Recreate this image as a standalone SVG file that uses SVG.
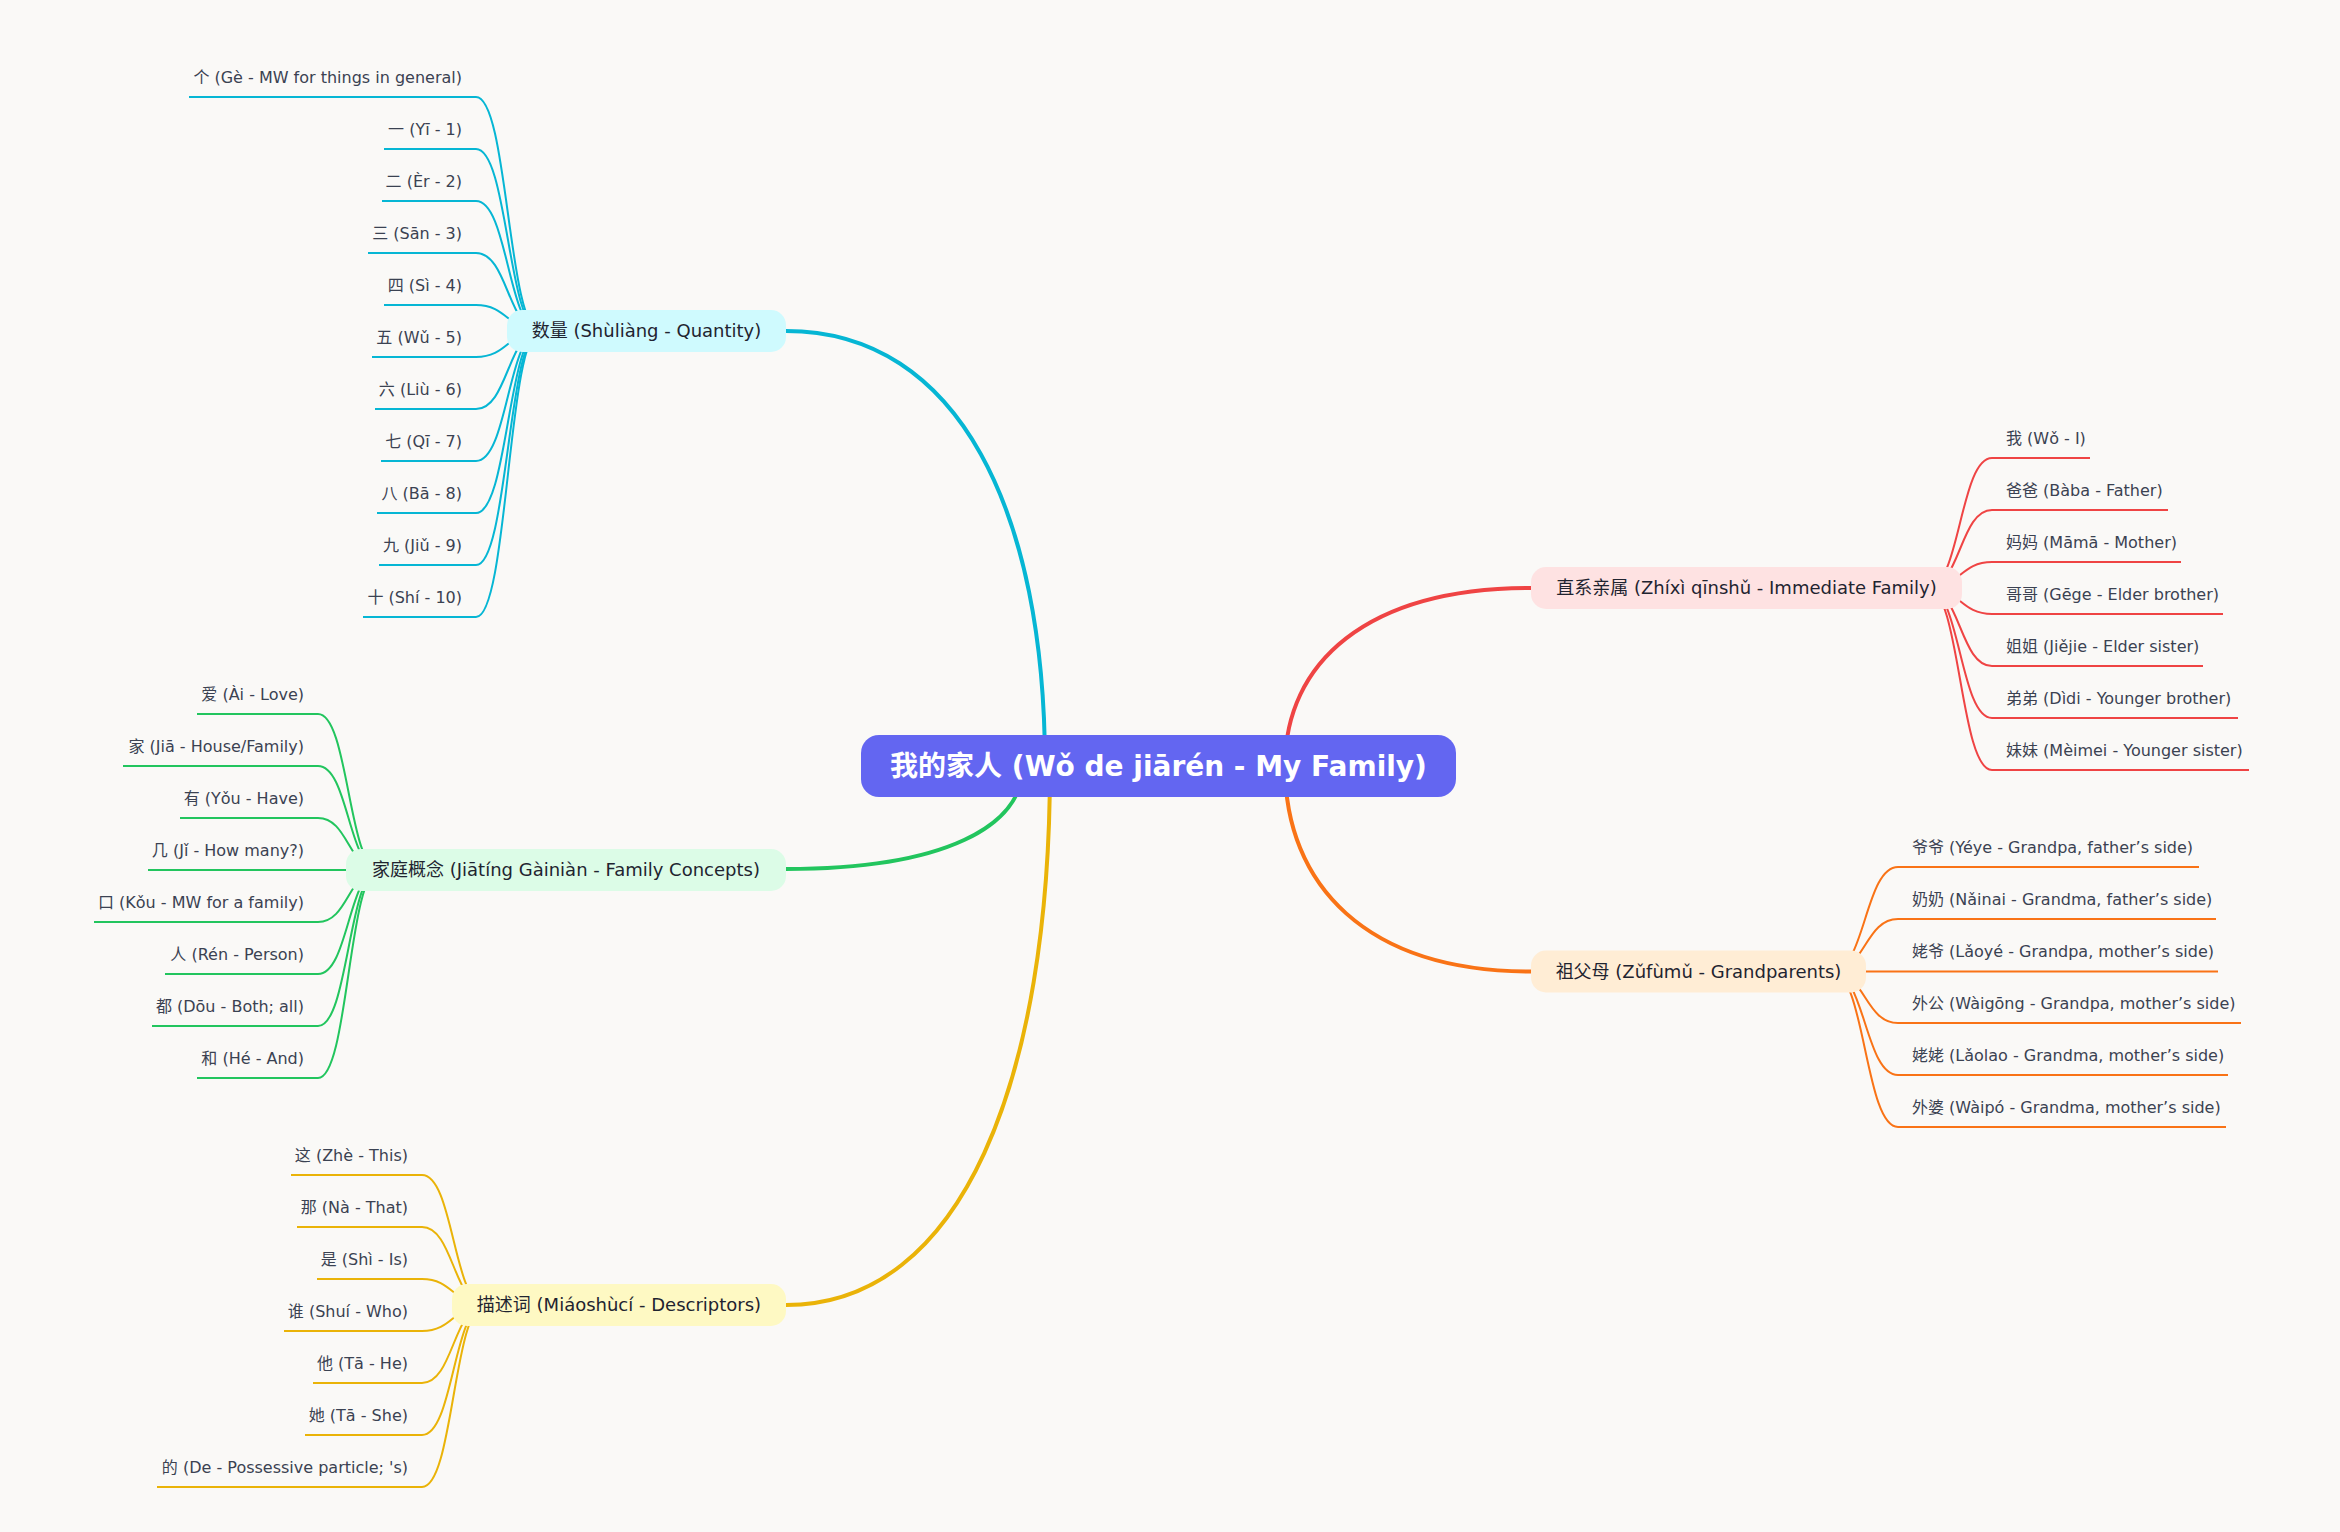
<svg xmlns="http://www.w3.org/2000/svg" width="2340" height="1532" viewBox="0 0 2340 1532">
<style>
text{font-family:"DejaVu Sans","Noto Sans CJK SC",sans-serif}
.leaf{font-size:16px;fill:#3b4252}
.l1{font-size:18px;fill:#1f2430;text-anchor:middle}
.root{font-size:28px;font-weight:bold;fill:#ffffff;text-anchor:middle}
.end{text-anchor:end}
.main{fill:none;stroke-width:4;stroke-linecap:round}
.sub{fill:none;stroke-width:2}
.c{stroke:#06b6d4}.g{stroke:#22c55e}.y{stroke:#eab308}.r{stroke:#ef4444}.o{stroke:#f97316}
</style>
<rect width="2340" height="1532" fill="#faf9f7"/>
<g id="connectors">
<path class="main c" d="M1045 766 C1045 514 960 331 786 331"/>
<path class="main g" d="M1023 766 C1023 826 945 869 786 869"/>
<path class="main y" d="M1050 766 C1050 1079 963 1305 786 1305"/>
<path class="main r" d="M1285 766 C1285 663 1366 588 1531 588"/>
<path class="main o" d="M1285 766 C1285 885 1366 971.5 1531 971.5"/>
<g class="sub c">
<path d="M189 97 H476 C508 97 508 331 540 331"/>
<path d="M384 149 H476 C508 149 508 331 540 331"/>
<path d="M382 201 H476 C508 201 508 331 540 331"/>
<path d="M368 253 H476 C508 253 508 331 540 331"/>
<path d="M384 305 H476 C508 305 508 331 540 331"/>
<path d="M372 357 H476 C508 357 508 331 540 331"/>
<path d="M375 409 H476 C508 409 508 331 540 331"/>
<path d="M381 461 H476 C508 461 508 331 540 331"/>
<path d="M377 513 H476 C508 513 508 331 540 331"/>
<path d="M379 565 H476 C508 565 508 331 540 331"/>
<path d="M363 617 H476 C508 617 508 331 540 331"/>
</g>
<g class="sub g">
<path d="M197 714 H318 C348.5 714 348.5 870 379 870"/>
<path d="M123 766 H318 C348.5 766 348.5 870 379 870"/>
<path d="M180 818 H318 C348.5 818 348.5 870 379 870"/>
<path d="M148 870 H379"/>
<path d="M94 922 H318 C348.5 922 348.5 870 379 870"/>
<path d="M165 974 H318 C348.5 974 348.5 870 379 870"/>
<path d="M152 1026 H318 C348.5 1026 348.5 870 379 870"/>
<path d="M197 1078 H318 C348.5 1078 348.5 870 379 870"/>
</g>
<g class="sub y">
<path d="M291 1175 H422 C453.5 1175 453.5 1305 485 1305"/>
<path d="M297 1227 H422 C453.5 1227 453.5 1305 485 1305"/>
<path d="M317 1279 H422 C453.5 1279 453.5 1305 485 1305"/>
<path d="M284 1331 H422 C453.5 1331 453.5 1305 485 1305"/>
<path d="M313 1383 H422 C453.5 1383 453.5 1305 485 1305"/>
<path d="M305 1435 H422 C453.5 1435 453.5 1305 485 1305"/>
<path d="M157 1487 H422 C453.5 1487 453.5 1305 485 1305"/>
</g>
<g class="sub r">
<path d="M1928 588 C1960 588 1960 458 1992 458 H2090"/>
<path d="M1928 588 C1960 588 1960 510 1992 510 H2168"/>
<path d="M1928 588 C1960 588 1960 562 1992 562 H2181"/>
<path d="M1928 588 C1960 588 1960 614 1992 614 H2223"/>
<path d="M1928 588 C1960 588 1960 666 1992 666 H2203"/>
<path d="M1928 588 C1960 588 1960 718 1992 718 H2238"/>
<path d="M1928 588 C1960 588 1960 770 1992 770 H2249"/>
</g>
<g class="sub o">
<path d="M1832 971.5 C1865 971.5 1865 867 1898 867 H2199"/>
<path d="M1832 971.5 C1865 971.5 1865 919 1898 919 H2216"/>
<path d="M1832 971.5 H2218"/>
<path d="M1832 971.5 C1865 971.5 1865 1023 1898 1023 H2241"/>
<path d="M1832 971.5 C1865 971.5 1865 1075 1898 1075 H2228"/>
<path d="M1832 971.5 C1865 971.5 1865 1127 1898 1127 H2226"/>
</g>
</g>
<g id="root">
<rect x="861" y="735" width="595" height="62" rx="18" fill="#6366f1"/>
<text class="root" x="1158.5" y="776">我的家人 (Wǒ de jiārén - My Family)</text>
</g>
<g id="quantity">
<rect x="507" y="310" width="279" height="42" rx="15" fill="#cffafe"/>
<text class="l1" x="646.5" y="337">数量 (Shùliàng - Quantity)</text>
</g>
<g id="quantity-leaves">
<text class="leaf end" x="462" y="83">个 (Gè - MW for things in general)</text>
<text class="leaf end" x="462" y="135">一 (Yī - 1)</text>
<text class="leaf end" x="462" y="187">二 (Èr - 2)</text>
<text class="leaf end" x="462" y="239">三 (Sān - 3)</text>
<text class="leaf end" x="462" y="291">四 (Sì - 4)</text>
<text class="leaf end" x="462" y="343">五 (Wǔ - 5)</text>
<text class="leaf end" x="462" y="395">六 (Liù - 6)</text>
<text class="leaf end" x="462" y="447">七 (Qī - 7)</text>
<text class="leaf end" x="462" y="499">八 (Bā - 8)</text>
<text class="leaf end" x="462" y="551">九 (Jiǔ - 9)</text>
<text class="leaf end" x="462" y="603">十 (Shí - 10)</text>
</g>
<g id="family-concepts">
<rect x="346" y="849" width="440" height="42" rx="15" fill="#dcfce7"/>
<text class="l1" x="566" y="876">家庭概念 (Jiātíng Gàiniàn - Family Concepts)</text>
</g>
<g id="family-concepts-leaves">
<text class="leaf end" x="304" y="700">爱 (Ài - Love)</text>
<text class="leaf end" x="304" y="752">家 (Jiā - House/Family)</text>
<text class="leaf end" x="304" y="804">有 (Yǒu - Have)</text>
<text class="leaf end" x="304" y="856">几 (Jǐ - How many?)</text>
<text class="leaf end" x="304" y="908">口 (Kǒu - MW for a family)</text>
<text class="leaf end" x="304" y="960">人 (Rén - Person)</text>
<text class="leaf end" x="304" y="1012">都 (Dōu - Both; all)</text>
<text class="leaf end" x="304" y="1064">和 (Hé - And)</text>
</g>
<g id="descriptors">
<rect x="452" y="1284" width="334" height="42" rx="15" fill="#fef9c3"/>
<text class="l1" x="619" y="1311">描述词 (Miáoshùcí - Descriptors)</text>
</g>
<g id="descriptors-leaves">
<text class="leaf end" x="408" y="1161">这 (Zhè - This)</text>
<text class="leaf end" x="408" y="1213">那 (Nà - That)</text>
<text class="leaf end" x="408" y="1265">是 (Shì - Is)</text>
<text class="leaf end" x="408" y="1317">谁 (Shuí - Who)</text>
<text class="leaf end" x="408" y="1369">他 (Tā - He)</text>
<text class="leaf end" x="408" y="1421">她 (Tā - She)</text>
<text class="leaf end" x="408" y="1473">的 (De - Possessive particle; 's)</text>
</g>
<g id="immediate-family">
<rect x="1531" y="567" width="431" height="42" rx="15" fill="#fee2e2"/>
<text class="l1" x="1746.5" y="594">直系亲属 (Zhíxì qīnshǔ - Immediate Family)</text>
</g>
<g id="immediate-family-leaves">
<text class="leaf" x="2006" y="444">我 (Wǒ - I)</text>
<text class="leaf" x="2006" y="496">爸爸 (Bàba - Father)</text>
<text class="leaf" x="2006" y="548">妈妈 (Māmā - Mother)</text>
<text class="leaf" x="2006" y="600">哥哥 (Gēge - Elder brother)</text>
<text class="leaf" x="2006" y="652">姐姐 (Jiějie - Elder sister)</text>
<text class="leaf" x="2006" y="704">弟弟 (Dìdi - Younger brother)</text>
<text class="leaf" x="2006" y="756">妹妹 (Mèimei - Younger sister)</text>
</g>
<g id="grandparents">
<rect x="1531" y="950.5" width="335" height="42" rx="15" fill="#ffedd5"/>
<text class="l1" x="1698.5" y="977.5">祖父母 (Zǔfùmǔ - Grandparents)</text>
</g>
<g id="grandparents-leaves">
<text class="leaf" x="1912" y="853">爷爷 (Yéye - Grandpa, father’s side)</text>
<text class="leaf" x="1912" y="905">奶奶 (Nǎinai - Grandma, father’s side)</text>
<text class="leaf" x="1912" y="957">姥爷 (Lǎoyé - Grandpa, mother’s side)</text>
<text class="leaf" x="1912" y="1009">外公 (Wàigōng - Grandpa, mother’s side)</text>
<text class="leaf" x="1912" y="1061">姥姥 (Lǎolao - Grandma, mother’s side)</text>
<text class="leaf" x="1912" y="1113">外婆 (Wàipó - Grandma, mother’s side)</text>
</g>
</svg>
